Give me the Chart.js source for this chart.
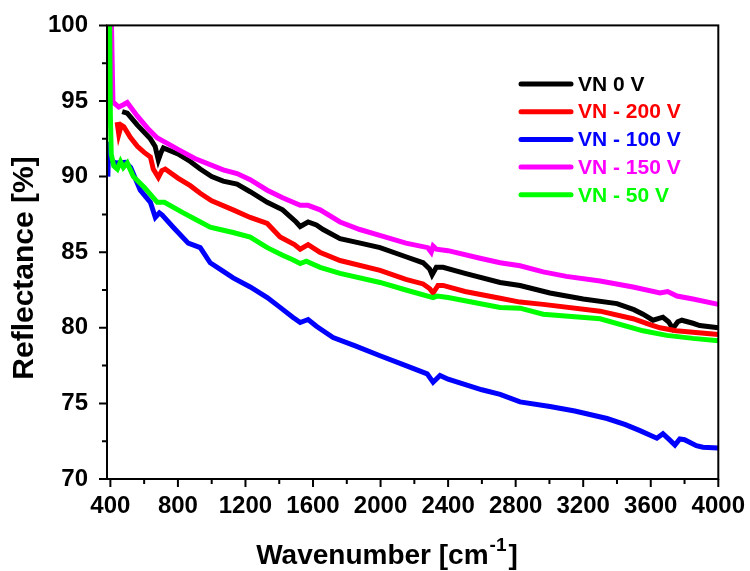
<!DOCTYPE html>
<html>
<head>
  <script src="https://cdn.jsdelivr.net/npm/chart.js@4.4.1/dist/chart.umd.min.js"></script>
  <style>
    html, body { margin: 0; padding: 0; background: #fff; }
    #wrap { width: 750px; height: 571px; }
  </style>
</head>
<body>
  <div id="wrap"><canvas id="graph" width="750" height="571"></canvas></div>

  <script>
    // axis ticks
    var xTicks = [400, 800, 1200, 1600, 2000, 2400, 2800, 3200, 3600, 4000];
    var yTicks = [70, 75, 80, 85, 90, 95, 100];

    // VN 0 V
    var vn0Wn = [470, 500, 560, 637, 665, 684, 700, 714, 800, 873, 932, 1000, 1068, 1150, 1228, 1329, 1420, 1500, 1524, 1571, 1620, 1660, 1760, 1880, 1997, 2150, 2252, 2290, 2305, 2330, 2370, 2500, 2708, 2826, 3003, 3200, 3400, 3500, 3554, 3613, 3672, 3705, 3731, 3760, 3784, 3850, 3890, 4000];
    var vn0R  = [94.3, 94.2, 93.4, 92.5, 92.0, 91.1, 91.6, 91.9, 91.5, 91.0, 90.5, 90.0, 89.7, 89.5, 89.0, 88.3, 87.8, 87.0, 86.7, 87.0, 86.8, 86.5, 85.9, 85.6, 85.3, 84.7, 84.3, 83.9, 83.5, 84.0, 84.0, 83.6, 83.0, 82.8, 82.3, 81.9, 81.6, 81.2, 80.9, 80.5, 80.7, 80.4, 79.95, 80.4, 80.5, 80.3, 80.15, 80.0];

    // VN - 200 V
    var vn200Wn = [440, 450, 465, 480, 518, 560, 600, 637, 654, 684, 705, 725, 800, 873, 932, 1000, 1127, 1228, 1329, 1405, 1490, 1524, 1571, 1640, 1760, 1997, 2150, 2252, 2290, 2311, 2340, 2370, 2500, 2708, 2826, 2963, 3300, 3495, 3600, 3655, 3750, 3850, 4000];
    var vn200R  = [93.6, 92.8, 93.4, 93.3, 92.6, 92.0, 91.6, 91.3, 90.5, 89.95, 90.4, 90.5, 89.9, 89.4, 88.9, 88.4, 87.8, 87.3, 86.9, 86.0, 85.5, 85.2, 85.5, 85.0, 84.45, 83.8, 83.2, 82.9, 82.6, 82.3, 82.8, 82.8, 82.4, 81.95, 81.7, 81.55, 81.1, 80.6, 80.2, 80.0, 79.8, 79.7, 79.55];

    // VN - 100 V
    var vn100Wn = [385, 390, 395, 400, 430, 489, 520, 577, 637, 666, 690, 707, 772, 861, 932, 991, 1060, 1127, 1228, 1329, 1405, 1480, 1524, 1571, 1620, 1719, 1850, 1997, 2150, 2276, 2311, 2352, 2400, 2600, 2708, 2826, 3003, 3150, 3341, 3450, 3536, 3636, 3672, 3710, 3743, 3772, 3800, 3870, 3909, 4000];
    var vn100R  = [90.0, 92.3, 91.2, 91.1, 90.9, 90.95, 90.6, 89.1, 88.3, 87.3, 87.6, 87.45, 86.65, 85.6, 85.3, 84.3, 83.8, 83.3, 82.7, 82.0, 81.35, 80.7, 80.35, 80.55, 80.1, 79.35, 78.8, 78.15, 77.5, 76.95, 76.4, 76.85, 76.6, 75.9, 75.6, 75.1, 74.8, 74.5, 74.0, 73.6, 73.2, 72.7, 73.0, 72.6, 72.25, 72.65, 72.6, 72.2, 72.1, 72.05];

    // VN - 150 V
    var vn150Wn = [405, 415, 418, 450, 477, 500, 560, 620, 678, 737, 800, 900, 1068, 1150, 1228, 1329, 1420, 1524, 1570, 1642, 1760, 1877, 2000, 2150, 2280, 2300, 2311, 2330, 2400, 2589, 2708, 2826, 2963, 3100, 3300, 3495, 3655, 3700, 3755, 3850, 4000];
    var vn150R  = [101, 95.0, 94.9, 94.6, 94.75, 94.9, 94.0, 93.2, 92.55, 92.2, 91.8, 91.2, 90.45, 90.2, 89.8, 89.1, 88.6, 88.1, 88.1, 87.8, 87.0, 86.5, 86.1, 85.6, 85.3, 85.0, 85.4, 85.2, 85.1, 84.6, 84.3, 84.1, 83.7, 83.4, 83.1, 82.7, 82.3, 82.4, 82.1, 81.9, 81.55];

    // VN - 50 V
    var vn50Wn = [395, 400, 405, 420, 441, 460, 477, 500, 536, 600, 678, 720, 832, 900, 991, 1050, 1127, 1228, 1329, 1420, 1480, 1524, 1560, 1642, 1760, 1997, 2150, 2311, 2334, 2400, 2708, 2826, 2963, 3300, 3554, 3695, 3850, 4000];
    var vn50R  = [101, 94.0, 91.5, 90.7, 90.5, 91.0, 90.6, 90.9, 90.0, 89.3, 88.3, 88.3, 87.6, 87.2, 86.65, 86.5, 86.3, 86.0, 85.3, 84.8, 84.5, 84.25, 84.4, 84.0, 83.6, 83.0, 82.5, 82.0, 82.1, 82.0, 81.35, 81.3, 80.9, 80.6, 79.8, 79.5, 79.3, 79.15];

    function pts(wn, r) {
      return wn.map(function(x, i) { return { x: x, y: r[i] }; });
    }

    function series(label, wn, r, colour, order) {
      return {
        label: label,
        data: pts(wn, r),
        borderColor: colour,
        backgroundColor: colour,
        borderWidth: 5,
        pointRadius: 0,
        tension: 0,
        order: order
      };
    }

    var FONT = "'Liberation Sans', Arial, sans-serif";

    // frame, outward ticks, axis titles (x one has a superscript) and the legend
    var decor = {
      id: 'decor',
      afterDraw: function(chart) {
        var ctx = chart.ctx;
        var a = chart.chartArea;
        var xs = chart.scales.x, ys = chart.scales.y;
        ctx.save();
        ctx.strokeStyle = '#000';
        ctx.lineWidth = 2;
        ctx.strokeRect(a.left, a.top, a.right - a.left, a.bottom - a.top);

        ctx.beginPath();
        for (var i = 0; i < xTicks.length; i++) {
          var px = xs.getPixelForValue(xTicks[i]);
          ctx.moveTo(px, a.bottom); ctx.lineTo(px, a.bottom + 8);
          if (i < xTicks.length - 1) {
            var mx = xs.getPixelForValue((xTicks[i] + xTicks[i + 1]) / 2);
            ctx.moveTo(mx, a.bottom); ctx.lineTo(mx, a.bottom + 5);
          }
        }
        for (var j = 0; j < yTicks.length; j++) {
          var py = ys.getPixelForValue(yTicks[j]);
          ctx.moveTo(a.left, py); ctx.lineTo(a.left - 8, py);
          if (j < yTicks.length - 1) {
            var my = ys.getPixelForValue((yTicks[j] + yTicks[j + 1]) / 2);
            ctx.moveTo(a.left, my); ctx.lineTo(a.left - 5, my);
          }
        }
        ctx.stroke();

        // x axis title
        ctx.fillStyle = '#000';
        ctx.textBaseline = 'alphabetic';
        ctx.textAlign = 'left';
        var big = 'bold 28px ' + FONT, small = 'bold 19px ' + FONT;
        ctx.font = big;
        var t1 = 'Wavenumber [cm', t3 = ']';
        var w1 = ctx.measureText(t1).width, w3 = ctx.measureText(t3).width;
        ctx.font = small;
        var t2 = '-1';
        var w2 = ctx.measureText(t2).width;
        var x0 = 387 - (w1 + w2 + w3 + 3) / 2;
        var base = 564;
        ctx.font = big;
        ctx.fillText(t1, x0, base);
        ctx.font = small;
        ctx.fillText(t2, x0 + w1 + 1, base - 13);
        ctx.font = big;
        ctx.fillText(t3, x0 + w1 + w2 + 3, base);

        // y axis title
        ctx.save();
        ctx.translate(25, 268);
        ctx.rotate(-Math.PI / 2);
        ctx.textAlign = 'center';
        ctx.textBaseline = 'middle';
        ctx.font = 'bold 30px ' + FONT;
        ctx.fillText('Reflectance [%]', 0, 0);
        ctx.restore();

        // legend
        var ds = chart.data.datasets;
        ctx.font = 'bold 21px ' + FONT;
        ctx.textBaseline = 'middle';
        ctx.textAlign = 'left';
        ctx.lineCap = 'round';
        for (var k = 0; k < ds.length; k++) {
          var ly = 84 + k * 27.7;
          ctx.strokeStyle = ds[k].borderColor;
          ctx.lineWidth = 5;
          ctx.beginPath();
          ctx.moveTo(521, ly); ctx.lineTo(571, ly);
          ctx.stroke();
          ctx.fillStyle = ds[k].borderColor;
          ctx.fillText(ds[k].label, 578, ly + 1);
        }
        ctx.restore();
      }
    };

    var chart = new Chart(document.getElementById('graph'), {
      type: 'line',
      data: {
        datasets: [
          series('VN 0 V', vn0Wn, vn0R, '#000000', 5),
          series('VN - 200 V', vn200Wn, vn200R, '#ff0000', 4),
          series('VN - 100 V', vn100Wn, vn100R, '#0000ff', 3),
          series('VN - 150 V', vn150Wn, vn150R, '#ff00ff', 2),
          series('VN - 50 V', vn50Wn, vn50R, '#00ff00', 1)
        ]
      },
      options: {
        responsive: false,
        animation: false,
        layout: { autoPadding: false, padding: { top: 25, right: 31, left: 0, bottom: 0 } },
        plugins: {
          legend: { display: false },
          tooltip: { enabled: false }
        },
        scales: {
          x: {
            type: 'linear',
            min: 380,
            max: 4000,
            afterBuildTicks: function(s) { s.ticks = xTicks.map(function(v) { return { value: v }; }); },
            afterFit: function(s) { s.height = 92; },
            grid: { display: false },
            border: { display: false },
            ticks: {
              color: '#000',
              padding: 5,
              maxRotation: 0,
              autoSkip: false,
              callback: function(v) { return String(v); },
              font: { family: FONT, size: 24, weight: 'bold' }
            }
          },
          y: {
            min: 70,
            max: 100,
            afterBuildTicks: function(s) { s.ticks = yTicks.map(function(v) { return { value: v }; }); },
            afterFit: function(s) { s.width = 107; },
            grid: { display: false },
            border: { display: false },
            ticks: {
              color: '#000',
              padding: 11,
              callback: function(v) { return String(v); },
              font: { family: FONT, size: 24, weight: 'bold' }
            }
          }
        }
      },
      plugins: [decor]
    });
  </script>
</body>
</html>
